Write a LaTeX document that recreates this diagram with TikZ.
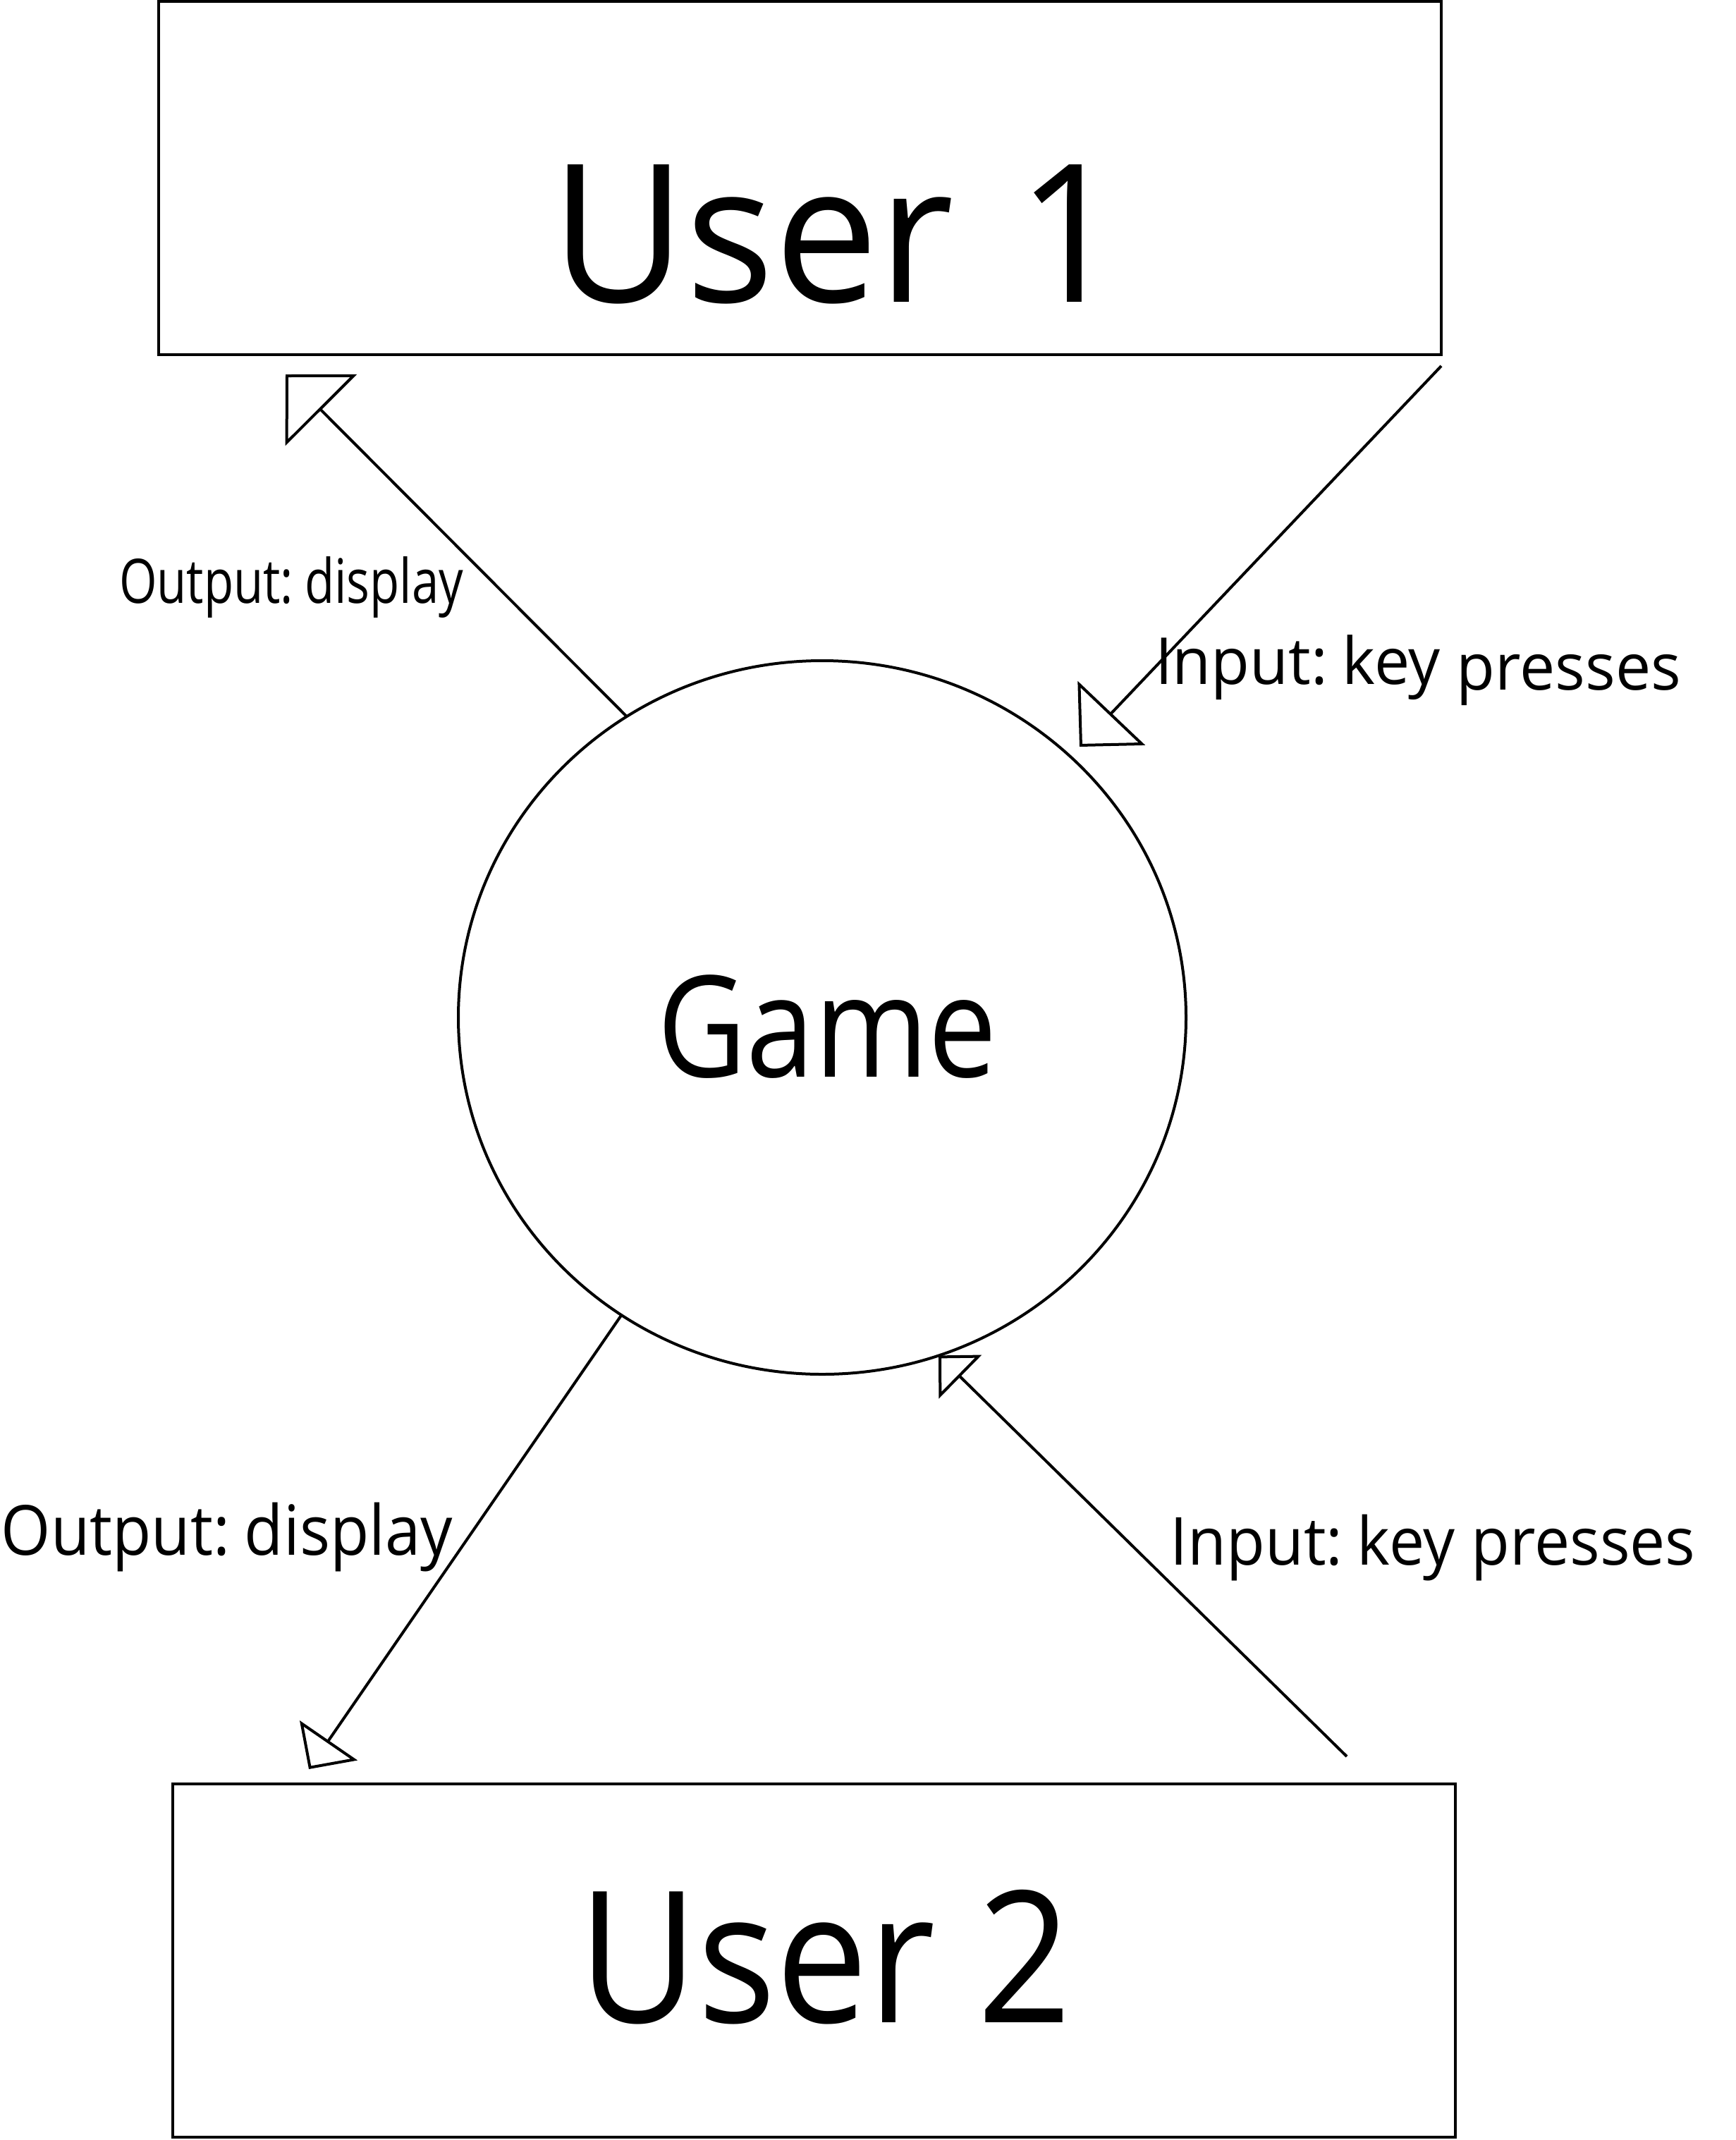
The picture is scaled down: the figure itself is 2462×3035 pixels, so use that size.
\documentclass[tikz,border=0pt]{standalone}
\usepackage{fontspec}
\usepackage{graphicx}
\setmainfont{Open Sans}
\usetikzlibrary{arrows.meta,shapes.geometric}
\newcommand\lbltext[3]{\resizebox{#2pt}{\height}{\fontsize{#1pt}{#1pt}\selectfont #3}}
\begin{document}
\begin{tikzpicture}[x=1pt,y=-1pt,
  every node/.style={inner sep=0pt,outer sep=0pt},
  userbox/.style={draw,line width=4pt,rectangle,minimum width=1819pt,minimum height=501pt},
  gamecirc/.style={draw,line width=4pt,ellipse,minimum width=1032pt,minimum height=1012pt},
  lbl/.style={anchor=base},
  flow/.style={line width=4pt},
]
\useasboundingbox (0,0) rectangle (2462,3035);
\fill[white] (0,0) rectangle (2462,3035);

\node[userbox] (user1) at (1134.5,252.5) {};
\node[userbox] (user2) at (1154.5,2780.5) {};
\node[gamecirc] (game) at (1166,1443) {};

\node[lbl] (user1t) at (1187,428) {\lbltext{273}{812}{User\hspace{0.08em} 1}};
\node[lbl] (user2t) at (1170,2868) {\lbltext{260}{700}{User 2}};
\node[lbl] (gamet) at (1173,1527) {\lbltext{200}{482}{Game}};

\node[lbl] (outU) at (413,855) {\lbltext{87}{488}{Output:\hspace{0.23em}display}};
\node[lbl] (inU) at (2011,970) {\lbltext{92}{746}{Input:\hspace{0.23em}key \raisebox{-8pt}{presses}}};
\node[lbl] (outL) at (322,2205) {\lbltext{98}{640}{Output:\hspace{0.23em}display}};
\node[lbl] (inL) at (2032,2219) {\lbltext{94}{745}{Input:\hspace{0.23em}key presses}};

\coordinate (tipA) at (405,531);
\coordinate (startB) at (2044,519);
\coordinate (tipB) at (1531,1059);
\coordinate (tipC) at (438,2509);
\coordinate (startD) at (1910,2491);

\draw[flow,-{Triangle[open,angle=90:101pt]}] (game.123.7) -- (tipA);
\draw[flow,-{Triangle[open,angle=90:93pt]}] (startB) -- (tipB);
\draw[flow,-{Triangle[open,angle=90:70pt]}] (game.236.2) -- (tipC);
\draw[flow,-{Triangle[open,angle=90:61pt]}] (startD) -- (game.289.1);
\end{tikzpicture}
\end{document}
